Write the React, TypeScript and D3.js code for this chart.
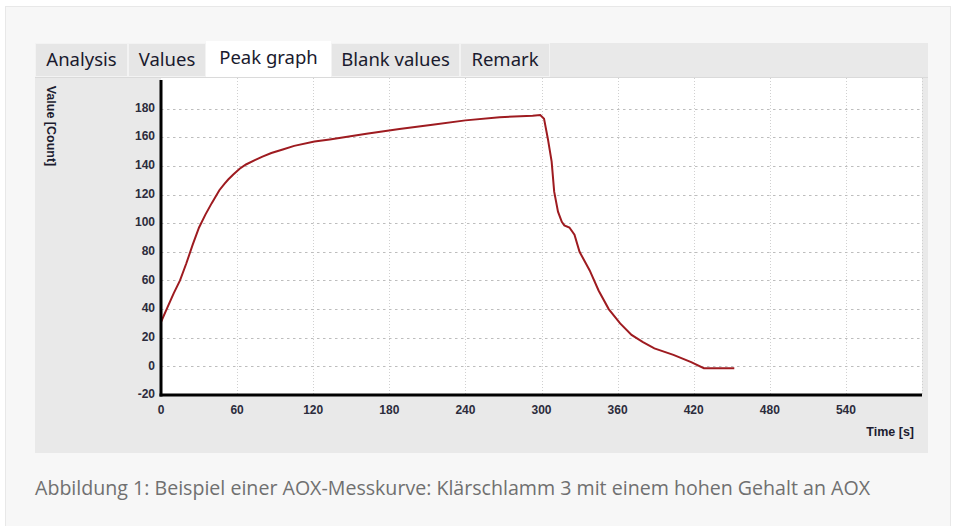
import React, { useEffect, useRef } from 'react';
import * as d3 from 'd3';

const timeSec = [0, 5, 10, 15, 20, 25, 30, 35, 40, 46, 50, 53, 57, 62, 67, 74, 80, 87, 96, 105, 121, 133, 162, 188, 214, 240, 267, 293, 299, 302, 305, 308, 310, 313, 316, 318, 322, 326, 330, 338, 345, 353, 362, 371, 380, 389, 404, 418, 428, 452];
const counts = [31, 41, 51, 60, 72, 85, 97, 106, 114, 123, 127.5, 130.5, 134, 138, 141, 144, 146.5, 149, 151.5, 154, 157, 158.5, 162.5, 165.8, 168.8, 171.8, 174, 175, 175.5, 173, 159, 143, 122, 108, 101, 98.5, 97, 92, 80, 67, 53, 40, 30, 22, 17, 12.6, 8, 3, -1.3, -1.3];

const xTicks = [0, 60, 120, 180, 240, 300, 360, 420, 480, 540];
const yTicks = [-20, 0, 20, 40, 60, 80, 100, 120, 140, 160, 180];
const tabs = ['Analysis', 'Values', 'Peak graph', 'Blank values', 'Remark'];
const tabEdges = [35, 128, 206, 331, 460, 550];
const activeTab = 'Peak graph';
const caption = 'Abbildung 1: Beispiel einer AOX-Messkurve: Klärschlamm 3 mit einem hohen Gehalt an AOX';

function App() {
  const svgRef = useRef<SVGSVGElement>(null);

  useEffect(() => {
    const svg = d3.select(svgRef.current);
    svg.selectAll('*').remove();

    // Hintergrund + Rahmen
    svg.append('rect').attr('width', 955).attr('height', 526).attr('fill', '#ffffff');
    svg.append('rect')
      .attr('x', 5.5).attr('y', 6.5).attr('width', 945).attr('height', 530)
      .attr('fill', '#f7f7f7').attr('stroke', '#e8e8e8');

    // Panel
    svg.append('rect')
      .attr('x', 35).attr('y', 43).attr('width', 893).attr('height', 410)
      .attr('fill', '#e9e9e9');

    // Tabs
    const tabG = svg.append('g');
    tabs.forEach((t, i) => {
      const x0 = tabEdges[i];
      const x1 = tabEdges[i + 1];
      const active = t === activeTab;
      tabG.append('rect')
        .attr('x', x0 + 0.5).attr('y', active ? 41.5 : 43.5)
        .attr('width', x1 - x0 - 1).attr('height', active ? 36 : 33)
        .attr('fill', active ? '#ffffff' : '#e6e6e6')
        .attr('stroke', active ? '#ffffff' : '#f3f3f3');
      tabG.append('text')
        .attr('x', (x0 + x1) / 2).attr('y', active ? 59 : 61)
        .attr('text-anchor', 'middle').attr('dominant-baseline', 'middle')
        .attr('font-family', 'Noto Sans, sans-serif').attr('font-size', 18.5)
        .attr('fill', '#1a1a2e')
        .text(t);
    });
    svg.append('line')
      .attr('x1', 35).attr('x2', 928).attr('y1', 77.5).attr('y2', 77.5)
      .attr('stroke', '#dadada');

    // Plot
    const x = d3.scaleLinear().domain([0, 600]).range([161, 922]);
    const y = d3.scaleLinear().domain([-20, 200]).range([395, 80]);

    svg.append('rect')
      .attr('x', x(0)).attr('y', 78)
      .attr('width', x(600) - x(0)).attr('height', y(-20) - 78)
      .attr('fill', '#ffffff');

    // Gitter
    svg.append('g').selectAll('line')
      .data(xTicks.filter(d => d > 0).concat([600]))
      .enter().append('line')
      .attr('x1', d => Math.round(x(d)) + 0.5).attr('x2', d => Math.round(x(d)) + 0.5)
      .attr('y1', 78).attr('y2', y(-20))
      .attr('stroke', '#d0d0d0').attr('stroke-dasharray', '1,2');
    svg.append('g').selectAll('line')
      .data(yTicks.filter(d => d > -20))
      .enter().append('line')
      .attr('x1', x(0)).attr('x2', x(600))
      .attr('y1', d => Math.round(y(d)) + 0.5).attr('y2', d => Math.round(y(d)) + 0.5)
      .attr('stroke', '#bdbdbd').attr('stroke-dasharray', '2.5,3.5');

    // Kurve
    const line = d3.line<number>()
      .x((d, i) => x(timeSec[i]))
      .y(d => y(d));
    svg.append('path')
      .datum(counts)
      .attr('d', line)
      .attr('fill', 'none')
      .attr('stroke', '#9e1b20')
      .attr('stroke-width', 2);

    // Achsen
    svg.append('line')
      .attr('x1', x(0)).attr('x2', x(0)).attr('y1', 80).attr('y2', 396.5)
      .attr('stroke', '#000').attr('stroke-width', 3);
    svg.append('line')
      .attr('x1', x(0) - 1.5).attr('x2', x(600)).attr('y1', y(-20)).attr('y2', y(-20))
      .attr('stroke', '#000').attr('stroke-width', 3);

    const tickFont = 'Liberation Sans, Arial, sans-serif';
    svg.append('g').selectAll('text')
      .data(yTicks)
      .enter().append('text')
      .attr('x', 155).attr('y', d => y(d))
      .attr('text-anchor', 'end').attr('dominant-baseline', 'middle')
      .attr('font-family', tickFont).attr('font-size', 12).attr('font-weight', 'bold')
      .attr('fill', '#2c2c3c')
      .text(d => d);
    svg.append('g').selectAll('text')
      .data(xTicks)
      .enter().append('text')
      .attr('x', d => x(d)).attr('y', 411)
      .attr('text-anchor', 'middle').attr('dominant-baseline', 'middle')
      .attr('font-family', tickFont).attr('font-size', 12).attr('font-weight', 'bold')
      .attr('fill', '#2c2c3c')
      .text(d => d);

    // Achsentitel
    svg.append('text')
      .attr('transform', 'translate(50,126) rotate(90)')
      .attr('text-anchor', 'middle').attr('dominant-baseline', 'middle')
      .attr('font-family', tickFont).attr('font-size', 12.5).attr('font-weight', 'bold')
      .attr('fill', '#1c1c30')
      .text('Value [Count]');
    svg.append('text')
      .attr('x', 914).attr('y', 433)
      .attr('text-anchor', 'end').attr('dominant-baseline', 'middle')
      .attr('font-family', tickFont).attr('font-size', 12.5).attr('font-weight', 'bold')
      .attr('fill', '#1c1c30')
      .text('Time [s]');

    // Bildunterschrift
    svg.append('text')
      .attr('x', 35).attr('y', 490)
      .attr('dominant-baseline', 'middle')
      .attr('font-family', 'Open Sans, sans-serif').attr('font-size', 19.5)
      .attr('textLength', 835).attr('lengthAdjust', 'spacingAndGlyphs')
      .attr('fill', '#707070')
      .text(caption);
  }, []);

  return (
    <>
      <style>{'body{margin:0}'}</style>
      <svg ref={svgRef} width={955} height={526} style={{ display: 'block' }}></svg>
    </>
  );
}

export default App;
